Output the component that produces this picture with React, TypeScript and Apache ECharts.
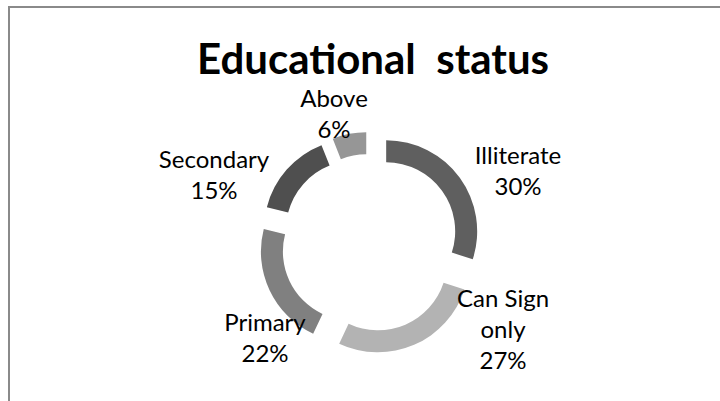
import React, { useEffect, useRef } from "react";
import * as echarts from "echarts";

const categories = ["Illiterate", "Can Sign\nonly", "Primary", "Secondary", "Above"];
const percents = [30, 27, 22, 15, 6];
const colors = ["#5f5f5f", "#b3b3b3", "#808080", "#4f4f4f", "#969696"];
const titleText = "Educational  status";
// label block centres (x, y) as placed by the original "best fit" layout
const labelAnchors: [number, number][] = [
  [518, 170],
  [503, 328],
  [265, 337],
  [214, 174],
  [334, 113],
];

export default function App() {
  const ref = useRef<HTMLDivElement>(null);
  useEffect(() => {
    if (!ref.current) return;
    const chart = echarts.init(ref.current, undefined, { renderer: "svg" });
    const pieBase = {
      type: "pie",
      radius: [69, 91],
      center: [370, 243],
      startAngle: 90,
      clockwise: true,
      emphasis: { disabled: true },
    };
    chart.setOption({
      animation: false,
      backgroundColor: "#ffffff",
      title: {
        text: titleText,
        left: 192,
        top: 32,
        textStyle: { fontFamily: "Lato", fontWeight: "bold", fontSize: 42, color: "#000" },
      },
      graphic: [
        {
          type: "rect",
          shape: { x: 9, y: 7, width: 740, height: 420 },
          style: { fill: "none", stroke: "#8a8a8a", lineWidth: 2 },
          silent: true,
        },
      ],
      series: [
        {
          ...pieBase,
          name: "Educational status",
          selectedMode: "multiple",
          selectedOffset: 20,
          data: categories.map((c, i) => ({
            name: c,
            value: percents[i],
            selected: true,
            itemStyle: { color: colors[i] },
          })),
          label: { show: false },
          labelLine: { show: false },
        },
        {
          ...pieBase,
          name: "labels",
          silent: true,
          selectedMode: false,
          data: categories.map((c, i) => ({
            name: c,
            value: percents[i],
            itemStyle: { color: "rgba(0,0,0,0)" },
          })),
          label: {
            show: true,
            position: "outside",
            formatter: (p: any) => `${p.name}\n${p.value}%`,
            fontFamily: "Lato",
            fontSize: 24,
            lineHeight: 31,
            color: "#000",
            align: "center",
          },
          labelLine: { show: false },
          labelLayout: (p: any) => ({
            x: labelAnchors[p.dataIndex][0],
            y: labelAnchors[p.dataIndex][1],
            align: "center",
            verticalAlign: "middle",
          }),
        },
      ],
    });
    return () => chart.dispose();
  }, []);
  return (
    <div
      ref={ref}
      style={{ position: "fixed", left: 0, top: 0, width: 720, height: 401 }}
    />
  );
}
